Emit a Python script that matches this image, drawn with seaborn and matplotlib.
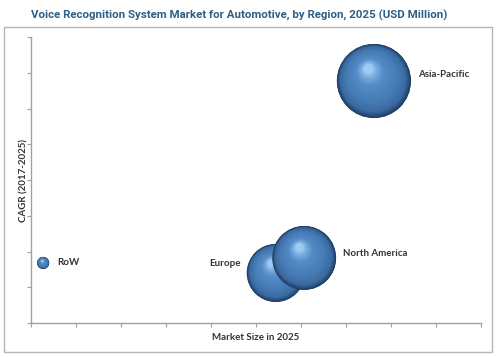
import numpy as np
import pandas as pd
import matplotlib
matplotlib.use("Agg")
import matplotlib.pyplot as plt
import matplotlib.transforms as mtransforms
from matplotlib.colors import LinearSegmentedColormap
from matplotlib.patches import Rectangle
import seaborn as sns

sns.set_theme(style="white")
plt.rcParams['font.family'] = ['Lato', 'DejaVu Sans']

# data (axes have no tick labels, so units are arbitrary)
regions = ["RoW", "Europe", "North America", "Asia-Pacific"]
market_size = [0.27, 5.44, 6.07, 7.62]
cagr = [1.68, 1.40, 1.82, 6.77]
bubble = [36, 840, 1020, 1370]

df = pd.DataFrame({"region": regions, "market": market_size,
                   "cagr": cagr, "bubble": bubble})

fig = plt.figure(figsize=(4.96, 3.57), dpi=100)
ax = fig.add_axes([31 / 496, 34 / 357, 450 / 496, 286 / 357])

# base of each sphere, drawn with seaborn
s_min, s_max = 75, 2840
sns.scatterplot(data=df, x="market", y="cagr", size="bubble",
                sizes=(s_min, s_max), size_norm=(min(bubble), max(bubble)),
                color="#27456d", edgecolor="none", legend=False, ax=ax, zorder=2)

# fake 3d shading: stack smaller, lighter circles toward the upper left
shade = LinearSegmentedColormap.from_list(
    "sphere", [(0, "#223f66"), (0.12, "#3a6aa0"), (0.35, "#477cb6"),
               (0.7, "#548bc6"), (0.9, "#7cafe0"), (1, "#a0cbf2")])
n_layers = 40
for i, row in df.iterrows():
    s = s_min + (row["bubble"] - min(bubble)) / (max(bubble) - min(bubble)) * (s_max - s_min)
    r_pt = np.sqrt(s) / 2
    for k in range(n_layers):
        t = k / (n_layers - 1)
        frac = 1 - 0.88 * t
        dx = -0.15 * r_pt * t / 72
        dy = 0.33 * r_pt * t / 72
        trans = ax.transData + mtransforms.ScaledTranslation(dx, dy, fig.dpi_scale_trans)
        ax.scatter([row["market"]], [row["cagr"]], s=s * frac ** 2,
                   color=shade(t), edgecolor="none",
                   transform=trans, zorder=3 + i)

# labels next to bubbles (offsets in points)
label_pos = {"RoW": (10, 0), "Europe": (-48, 6.5), "North America": (28, 3),
             "Asia-Pacific": (32, 5)}
for _, row in df.iterrows():
    ox, oy = label_pos[row["region"]]
    ax.annotate(row["region"], (row["market"], row["cagr"]),
                xytext=(ox, oy), textcoords="offset points",
                ha="left", va="center", fontsize=7, fontweight="bold",
                color="#333333", zorder=10)

ax.set_xlim(0, 10)
ax.set_ylim(0, 8)
ax.set_xticks(np.arange(0, 11, 1))
ax.set_yticks(np.arange(0, 9, 1))
ax.set_xticklabels([])
ax.set_yticklabels([])
ax.tick_params(axis="both", direction="out", length=3, width=0.8,
               color="#a0a0a0", bottom=True, left=True)
for side in ["top", "right"]:
    ax.spines[side].set_visible(False)
for side in ["left", "bottom"]:
    ax.spines[side].set_color("#a0a0a0")
    ax.spines[side].set_linewidth(1)

ax.set_xlabel("Market Size in 2025", fontsize=7, fontweight="bold",
              color="#333333", labelpad=1)
ax.set_ylabel("CAGR (2017-2025)", fontsize=7, fontweight="bold",
              color="#333333", labelpad=-5)

fig.patches.append(Rectangle((4 / 496, 5 / 357), 488 / 496, 325 / 357,
                             transform=fig.transFigure, fill=False,
                             edgecolor="#b5b5b5", linewidth=1))

title = fig.text(239 / 496, 1 - 15 / 357,
                 "Voice Recognition System Market for Automotive, by Region, 2025 (USD Million)",
                 ha="center", va="center", fontsize=9, fontweight="bold",
                 color="#2e5f85", family=["Roboto", "DejaVu Sans"])
# shrink the title to the width it has in the reference (~414 px)
fig.canvas.draw()
w = title.get_window_extent().width
title.set_fontsize(9 * 414 / w)

fig.savefig("out.png", dpi=100)
